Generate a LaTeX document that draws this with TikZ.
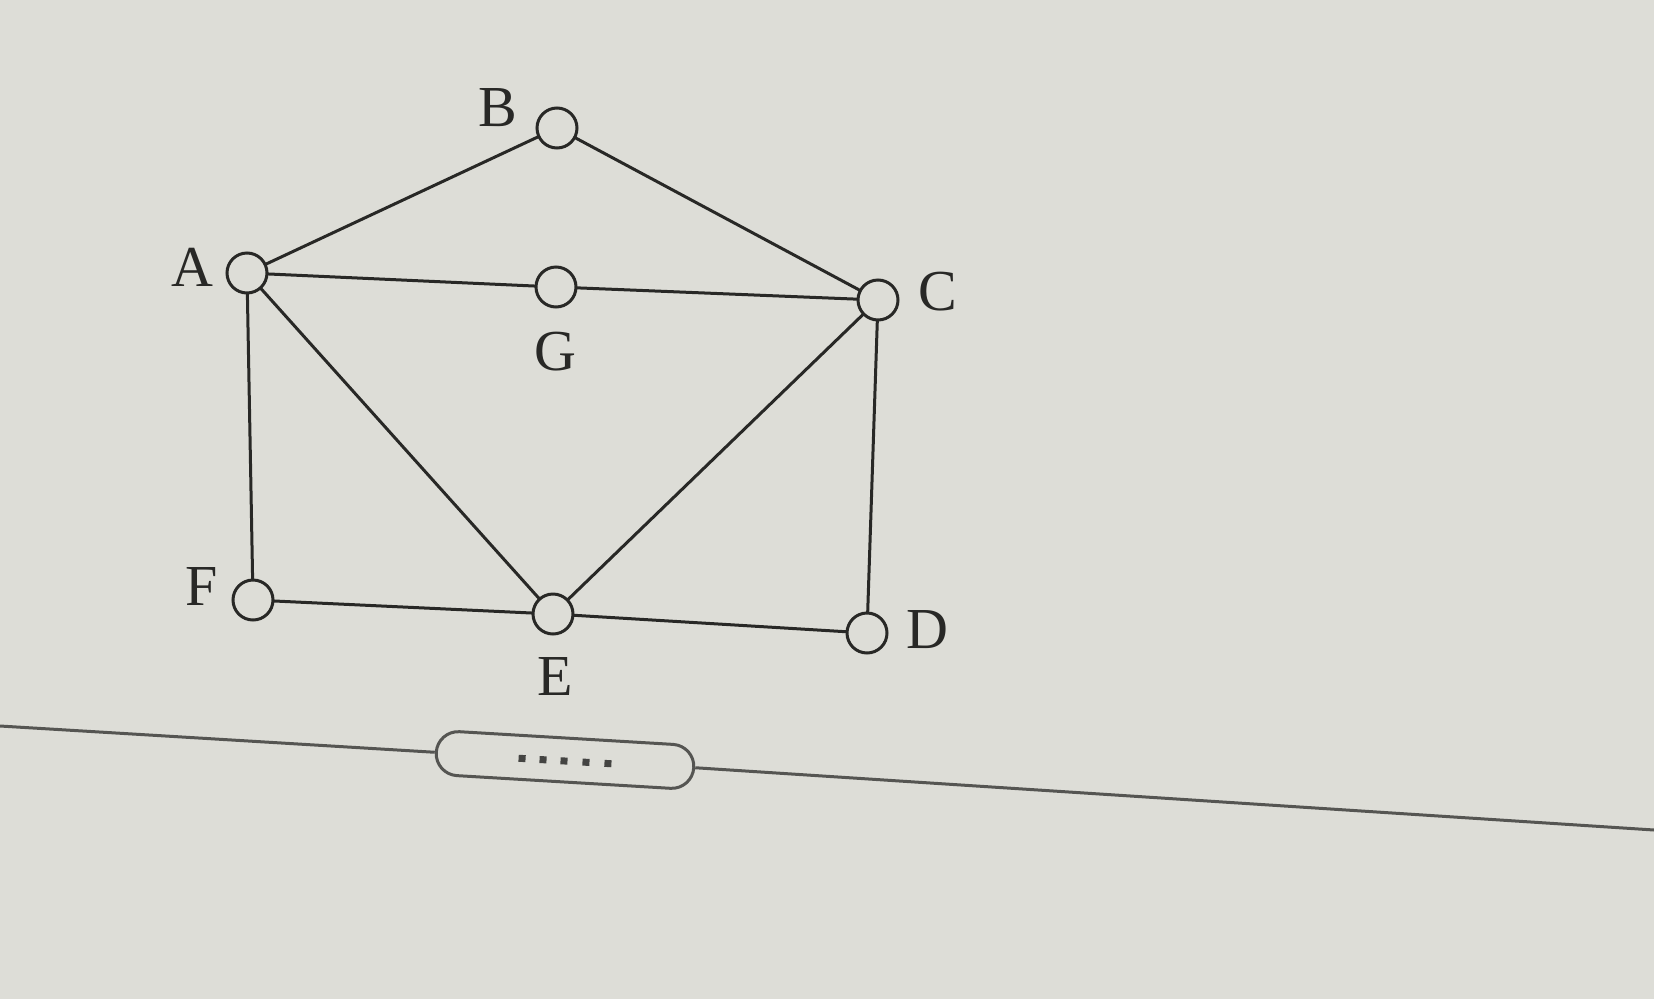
\documentclass[tikz,border=0pt]{standalone}
\usepackage{fontspec}
\setmainfont{Liberation Serif}
\usetikzlibrary{shapes.misc}
\definecolor{bgc}{RGB}{221,221,215}
\definecolor{ink}{RGB}{40,40,38}
\definecolor{sepc}{RGB}{85,85,82}
\begin{document}
\begin{tikzpicture}[x=1pt,y=-1pt,
  vtx/.style={circle,draw=ink,line width=3pt,fill=bgc,minimum size=40pt,inner sep=0pt},
  lbl/.style={inner sep=0pt,text=ink,font=\fontsize{58}{58}\selectfont},
  edge/.style={draw=ink,line width=3pt},
  sep/.style={draw=sepc,line width=3pt},
  pill/.style={rounded rectangle,draw=sepc,line width=3pt,minimum width=258pt,minimum height=44pt,inner sep=0pt,rotate=-3.4}]
\fill[bgc] (0,0) rectangle (1654,999);
\useasboundingbox (0,0) rectangle (1654,999);
% edges first
\coordinate (pA) at (247,273);
\coordinate (pB) at (557,128);
\coordinate (pG) at (556,287);
\coordinate (pC) at (878,300);
\coordinate (pF) at (253,600);
\coordinate (pE) at (553,614);
\coordinate (pD) at (867,633);
\draw[edge] (pA) -- (pB) -- (pC);
\draw[edge] (pA) -- (pG) -- (pC);
\draw[edge] (pA) -- (pF);
\draw[edge] (pA) -- (pE) -- (pC);
\draw[edge] (pC) -- (pD);
\draw[edge] (pF) -- (pE) -- (pD);
% vertices
\node[vtx] (A) at (pA) {};
\node[vtx] (B) at (pB) {};
\node[vtx] (G) at (pG) {};
\node[vtx] (C) at (pC) {};
\node[vtx] (F) at (pF) {};
\node[vtx] (E) at (pE) {};
\node[vtx] (D) at (pD) {};
% labels
\node[lbl] (lB) at (498,108) {B};
\node[lbl] (lA) at (192,267) {A};
\node[lbl] (lG) at (555,352) {G};
\node[lbl] (lC) at (938,292) {C};
\node[lbl] (lF) at (202,587) {F};
\node[lbl] (lE) at (555,677) {E};
\node[lbl] (lD) at (927,630) {D};
% separator with pill
\node[pill] (P) at (565,760) {};
\coordinate (sL) at (0,726);
\coordinate (sR) at (1654,830);
\draw[sep] (sL) -- (P.west);
\draw[sep] (P.east) -- (sR);
\begin{scope}[shift={(565,761)},rotate=-3.4]
  \foreach \dx in {-43,-22,-1,21,43} {
    \fill[sepc!80!black] (\dx-3.5,-3.5) rectangle (\dx+3.5,3.5);
  }
\end{scope}
\end{tikzpicture}
\end{document}
